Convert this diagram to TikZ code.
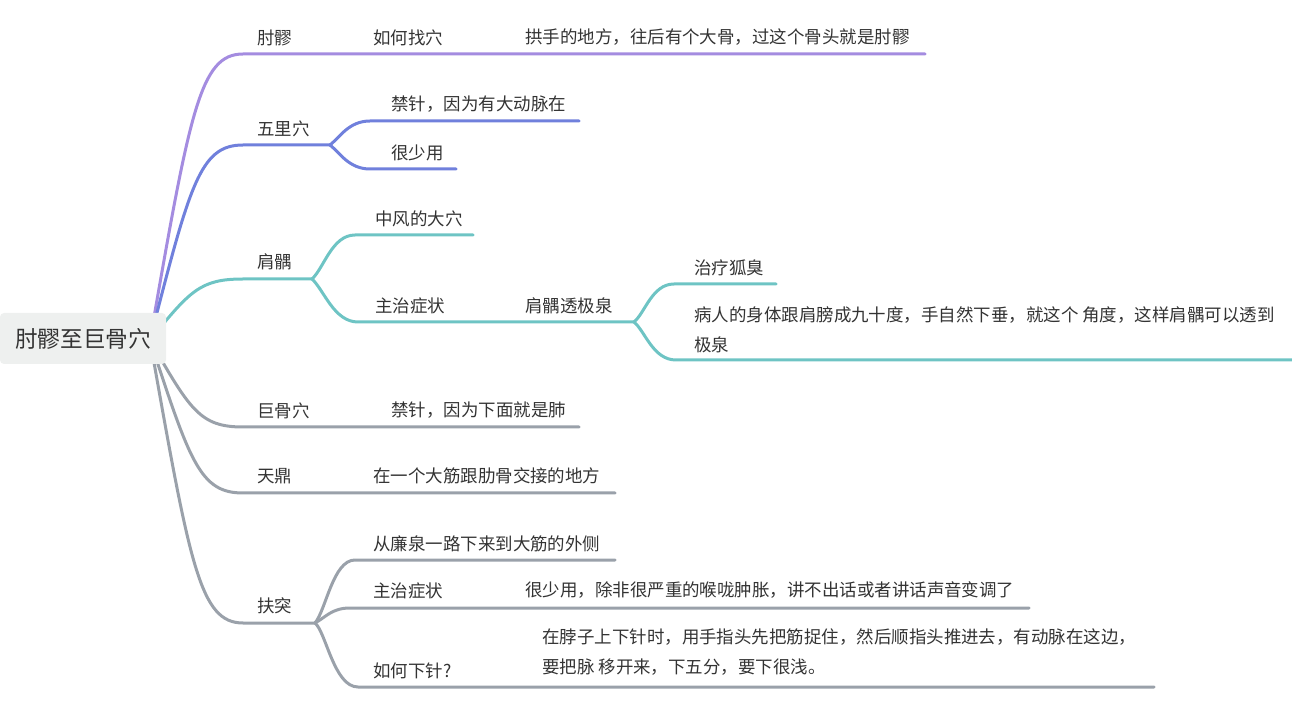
\documentclass[tikz,border=0pt]{standalone}
\usepackage{fontspec}
\setmainfont{Noto Sans CJK SC}
\usepackage{tikz}
\usetikzlibrary{backgrounds}

\definecolor{lilac}{RGB}{164,140,224}
\definecolor{cornflower}{RGB}{112,128,220}
\definecolor{teal}{RGB}{110,196,196}
\definecolor{slate}{RGB}{154,161,170}
\definecolor{rootfill}{RGB}{238,240,239}
\definecolor{txtgray}{RGB}{51,51,51}

\begin{document}
\begin{tikzpicture}[
  x=0.75pt,y=-0.75pt,
  topic/.style={anchor=west,inner sep=0pt,align=left,text=txtgray,font=\fontsize{13.1}{22.5}\selectfont},
  rootbox/.style={rectangle,rounded corners=3pt,fill=rootfill,inner sep=0pt,minimum width=124.5pt,minimum height=38.25pt,text=txtgray,font=\fontsize{17}{20}\selectfont},
  branch/.style={line width=2.25pt,line cap=round,draw=#1},
]
\useasboundingbox (0,0) rectangle (1292,705);

% === ROOT ===
\node[rootbox] (root) at (83,338.5) {肘髎至巨骨穴};
\coordinate (hub) at (150,340);

% === 肘髎 ===
\node[topic] (zl) at (257,37.5) {肘髎};
\node[topic] (zl-how) at (373,37.5) {如何找穴};
\node[topic] (zl-ans) at (525,37.5) {拱手的地方，往后有个大骨，过这个骨头就是肘髎};
\coordinate (zl-in) at (243,54);
\coordinate (zl-end) at (925,54);

% === 五里穴 ===
\node[topic] (wl) at (257,128.5) {五里穴};
\node[topic] (wl-ban) at (391,104.5) {禁针，因为有大动脉在};
\node[topic] (wl-rare) at (391,152.5) {很少用};
\coordinate (wl-in) at (243,145);
\coordinate (wl-fork) at (330,145);
\coordinate (wl-ban-in) at (370,121);
\coordinate (wl-ban-end) at (579,121);
\coordinate (wl-rare-in) at (370,169);
\coordinate (wl-rare-end) at (456,169);

% === 肩髃 ===
\node[topic] (jy) at (257,262) {肩髃};
\node[topic] (jy-big) at (375,218.5) {中风的大穴};
\node[topic] (jy-main) at (375,305.5) {主治症状};
\node[topic] (jy-thru) at (525,305.5) {肩髃透极泉};
\node[topic] (jy-odor) at (694,267.5) {治疗狐臭};
\node[topic] (jy-pose) at (694,329.5) {病人的身体跟肩膀成九十度，手自然下垂，就这个 角度，这样肩髃可以透到\\极泉};
\coordinate (jy-in) at (243,279);
\coordinate (jy-fork) at (312,279);
\coordinate (jy-big-in) at (355,235);
\coordinate (jy-big-end) at (473,235);
\coordinate (jy-main-in) at (358,322);
\coordinate (jy-fork2) at (634,322);
\coordinate (jy-odor-in) at (674,284);
\coordinate (jy-odor-end) at (776,284);
\coordinate (jy-pose-in) at (676,360);
\coordinate (jy-pose-end) at (1292,360);

% === 巨骨穴 ===
\node[topic] (jg) at (257,410.5) {巨骨穴};
\node[topic] (jg-ban) at (391,410.5) {禁针，因为下面就是肺};
\coordinate (jg-in) at (243,427);
\coordinate (jg-end) at (579,427);

% === 天鼎 ===
\node[topic] (td) at (257,476) {天鼎};
\node[topic] (td-loc) at (373,476) {在一个大筋跟肋骨交接的地方};
\coordinate (td-in) at (243,493);
\coordinate (td-end) at (615,493);

% === 扶突 ===
\node[topic] (ft) at (257,606) {扶突};
\node[topic] (ft-loc) at (373,544) {从廉泉一路下来到大筋的外侧};
\node[topic] (ft-main) at (373,590.5) {主治症状};
\node[topic] (ft-rare) at (525,590.5) {很少用，除非很严重的喉咙肿胀，讲不出话或者讲话声音变调了};
\node[topic] (ft-how) at (373,670.5) {如何下针?};
\node[topic] (ft-needle) at (542,652.5) {在脖子上下针时，用手指头先把筋捉住，然后顺指头推进去，有动脉在这边，\\要把脉 移开来，下五分，要下很浅。};
\coordinate (ft-in) at (243,623);
\coordinate (ft-fork) at (315,623);
\coordinate (ft-loc-in) at (355,560);
\coordinate (ft-loc-end) at (615,560);
\coordinate (ft-main-in) at (350,608);
\coordinate (ft-main-end) at (1029,608);
\coordinate (ft-how-in) at (358,687);
\coordinate (ft-how-end) at (1154,687);

% === BRANCH LINES (behind root) ===
\begin{scope}[on background layer]
\draw[branch=lilac] (hub) .. controls (190,111) and (200,54) .. (zl-in) -- (zl-end);

\draw[branch=cornflower] (hub) .. controls (190,184) and (200,145) .. (wl-in) -- (wl-fork);
\draw[branch=cornflower] (wl-fork) .. controls (340,137) and (349,121) .. (wl-ban-in) -- (wl-ban-end);
\draw[branch=cornflower] (wl-fork) .. controls (340,153) and (349,169) .. (wl-rare-in) -- (wl-rare-end);

\draw[branch=teal] (hub) .. controls (190,291) and (200,279) .. (jy-in) -- (jy-fork);
\draw[branch=teal] (jy-fork) .. controls (324,268) and (332,235) .. (jy-big-in) -- (jy-big-end);
\draw[branch=teal] (jy-fork) .. controls (324,290) and (334,322) .. (jy-main-in) -- (jy-fork2);
\draw[branch=teal] (jy-fork2) .. controls (645,313) and (652,284) .. (jy-odor-in) -- (jy-odor-end);
\draw[branch=teal] (jy-fork2) .. controls (645,331) and (653,360) .. (jy-pose-in) -- (jy-pose-end);

\draw[branch=slate] (hub) .. controls (190,410) and (200,427) .. (jg-in) -- (jg-end);
\draw[branch=slate] (hub) .. controls (190,462) and (200,493) .. (td-in) -- (td-end);
\draw[branch=slate] (hub) .. controls (190,566) and (200,623) .. (ft-in) -- (ft-fork);
\draw[branch=slate] (ft-fork) .. controls (326,610) and (333,560) .. (ft-loc-in) -- (ft-loc-end);
\draw[branch=slate] (ft-fork) .. controls (326,617) and (332,608) .. (ft-main-in) -- (ft-main-end);
\draw[branch=slate] (ft-fork) .. controls (326,632) and (334,687) .. (ft-how-in) -- (ft-how-end);
\end{scope}

\end{tikzpicture}
\end{document}
